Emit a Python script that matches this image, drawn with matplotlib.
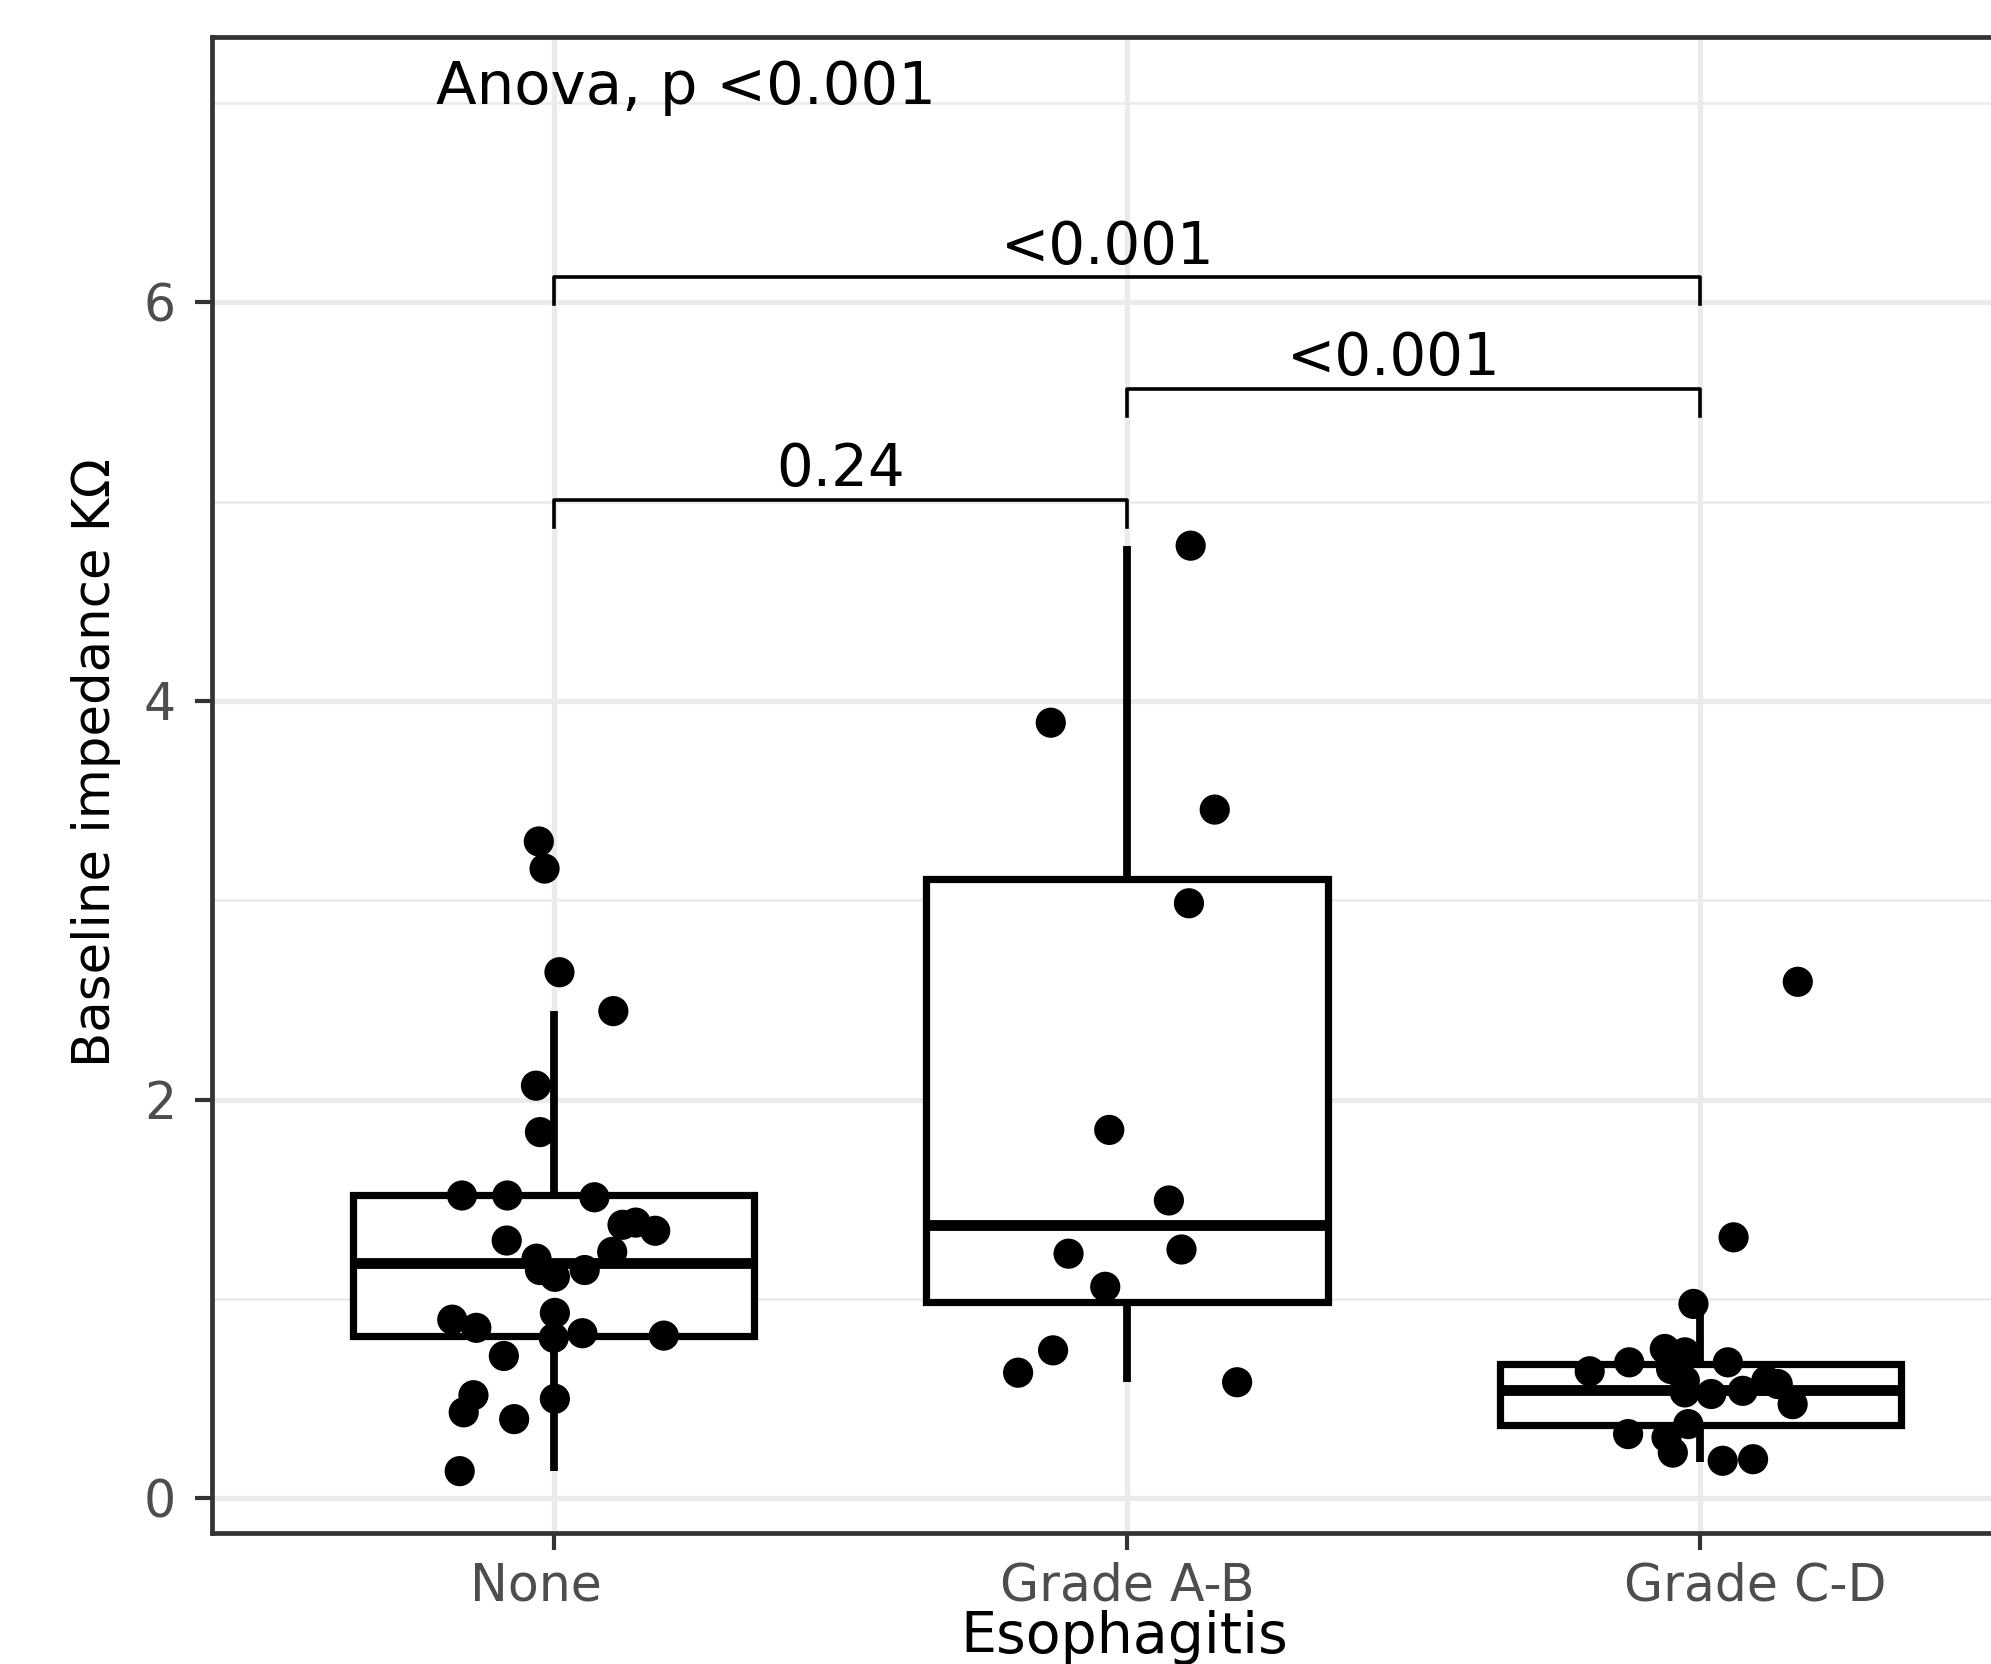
import numpy as np
import matplotlib
matplotlib.use("Agg")
import matplotlib.pyplot as plt
import matplotlib.transforms as mtransforms
from matplotlib.ticker import FixedLocator

# groups on the x axis
groups = ['None', 'Grade A-B', 'Grade C-D']
positions = [1, 2, 3]

# jittered points (value, horizontal jitter)
y_none = [3.295, 3.159, 2.639, 2.444, 2.070, 1.837, 1.519, 1.519, 1.510, 1.372,
          1.383, 1.342, 1.293, 1.202, 1.236, 1.145, 1.145, 1.111, 0.896, 0.855,
          0.930, 0.714, 0.805, 0.828, 0.816, 0.517, 0.431, 0.397, 0.499, 0.136]
dx_none = [-0.026, -0.016, 0.010, 0.104, -0.031, -0.024, -0.160, -0.081, 0.071, 0.120,
           0.143, 0.177, -0.082, -0.030, 0.102, 0.054, -0.024, 0.002, -0.177, -0.135,
           0.002, -0.087, 0.0, 0.050, 0.192, -0.140, -0.157, -0.069, 0.002, -0.164]

y_ab = [4.779, 3.891, 3.455, 2.985, 1.848, 1.494, 1.227, 1.248, 1.061, 0.742, 0.630, 0.582]
dx_ab = [0.111, -0.133, 0.153, 0.108, -0.031, 0.073, -0.102, 0.095, -0.038, -0.129, -0.190, 0.192]

y_cd = [2.591, 1.309, 0.975, 0.749, 0.732, 0.682, 0.637, 0.682, 0.648, 0.590, 0.531,
        0.523, 0.539, 0.590, 0.573, 0.472, 0.372, 0.322, 0.305, 0.229, 0.188, 0.196]
dx_cd = [0.170, 0.058, -0.012, -0.062, -0.027, -0.124, -0.193, 0.048, -0.051, -0.027, -0.027,
         0.019, 0.074, 0.115, 0.135, 0.161, -0.021, -0.126, -0.059, -0.048, 0.039, 0.092]

# box statistics as drawn
whislo = [0.136, 0.582, 0.18]
q1 = [0.816, 0.985, 0.368]
med = [1.179, 1.370, 0.544]
q3 = [1.519, 3.106, 0.673]
whishi = [2.444, 4.779, 0.975]

# pairwise comparisons
pairs = [(1, 3), (2, 3), (1, 2)]
bracket_y = [6.128, 5.567, 5.006]
p_labels = ['<0.001', '<0.001', '0.24']
p_label_x = [1.966, 2.466, 1.5]
p_label_y = [6.19, 5.637, 5.077]
anova_text = 'Anova, p <0.001'

fig = plt.figure(figsize=(1991 / 200, 1664 / 200), dpi=200)
ax = fig.add_axes([0.1065, 0.079, 0.8935, 0.899])

stats = []
for i in range(3):
    stats.append(dict(whislo=whislo[i], q1=q1[i], med=med[i], q3=q3[i],
                      whishi=whishi[i], fliers=[]))
ax.bxp(stats, positions=positions, widths=0.7, showfliers=False, showcaps=False,
       patch_artist=True, manage_ticks=False,
       boxprops=dict(facecolor='white', edgecolor='black', linewidth=2.6),
       medianprops=dict(color='black', linewidth=3.9, solid_capstyle='butt'),
       whiskerprops=dict(color='black', linewidth=2.8, solid_capstyle='butt'),
       zorder=2)

for pos, ys, dxs in zip(positions, [y_none, y_ab, y_cd], [dx_none, dx_ab, dx_cd]):
    ax.scatter(pos + np.array(dxs), ys, s=118, color='black', edgecolors='none', zorder=3)

# significance brackets
drop = 0.135
for (a, b), yb in zip(pairs, bracket_y):
    ax.plot([a, a, b, b], [yb - drop, yb, yb, yb - drop], color='black', lw=1.3, zorder=3)
for lab, lx, ly in zip(p_labels, p_label_x, p_label_y):
    ax.text(lx, ly, lab, ha='center', va='baseline', fontsize=20.8, color='black')
ax.text(0.794, 6.995, anova_text, ha='left', va='baseline', fontsize=21.4, color='black')

ax.set_xlim(0.404, 3.507)
ax.set_ylim(-0.172, 7.333)

ax.set_xticks(positions)
ax.set_xticklabels(groups)
ax.set_yticks([0, 2, 4, 6])
ax.yaxis.set_minor_locator(FixedLocator([1, 3, 5, 7]))
ax.tick_params(which='minor', length=0)
ax.tick_params(which='major', length=6, width=1.5, color='#333333',
               labelcolor='#4D4D4D', labelsize=18.2)
ax.tick_params(axis='x', pad=4.5)
ax.tick_params(axis='y', pad=7)

ax.set_axisbelow(True)
ax.grid(which='major', color='#EBEBEB', lw=1.9)
ax.grid(which='minor', axis='y', color='#EBEBEB', lw=0.9)

for side in ['left', 'top', 'bottom']:
    ax.spines[side].set_color('#333333')
    ax.spines[side].set_linewidth(1.7)
ax.spines['right'].set_visible(False)

# x tick labels sit a little off their ticks in the original
label_shift_px = [-18, 0, 55]
for lab, dx in zip(ax.get_xticklabels(), label_shift_px):
    lab.set_transform(lab.get_transform() +
                      mtransforms.ScaledTranslation(dx / 200, 0, fig.dpi_scale_trans))

ax.set_xlabel('Esophagitis', fontsize=20.5, color='black')
ax.xaxis.set_label_coords(0.5125, -0.0515)
ax.set_ylabel('Baseline impedance K\u03a9', fontsize=18.5, color='black')
ax.yaxis.set_label_coords(-0.0514, 0.515)

fig.savefig('out.png', dpi=200)
